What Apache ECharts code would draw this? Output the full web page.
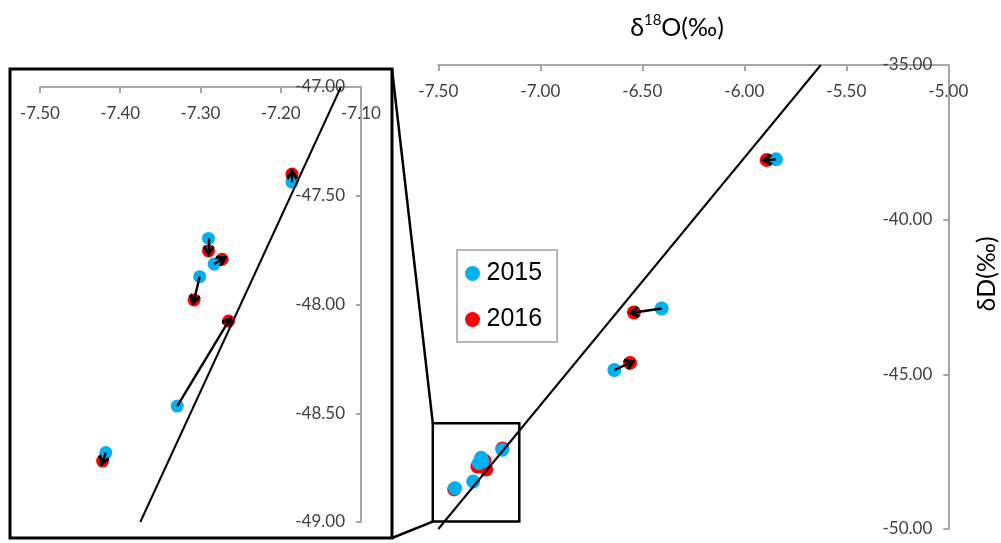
<!DOCTYPE html>
<html>
<head>
<meta charset="utf-8">
<script src="https://cdn.jsdelivr.net/npm/echarts@6/dist/echarts.min.js"></script>
<style>
  html, body { margin: 0; padding: 0; background: #fff; }
  #chart { width: 1001px; height: 543px; }
</style>
</head>
<body>
<div id="chart"></div>
<script>
// δ18O / δD of each sample, 2015 vs 2016 (same order in every array)
const o18_2015 = [-5.845, -6.405, -6.637, -7.186, -7.290, -7.283, -7.301, -7.329, -7.418];
const dD_2015  = [-38.05, -42.87, -44.86, -47.438, -47.696, -47.814, -47.872, -48.467, -48.681];
const o18_2016 = [-5.890, -6.541, -6.560, -7.186, -7.290, -7.273, -7.308, -7.265, -7.422];
const dD_2016  = [-38.07, -43.00, -44.63, -47.400, -47.754, -47.792, -47.979, -48.076, -48.720];

// samples with an arrow in the main plot / samples shown in the zoom panel
const mainArrowIdx = [0, 1, 2];
const zoomIdx = [3, 4, 5, 6, 7, 8];

// meteoric water line end points
const lineMain = [[-7.5, -50], [-5.625, -35]];
const lineZoom = [[-7.375, -49], [-7.125, -47]];

// region of the main plot that the zoom panel enlarges
const zoomBoxX = [-7.527, -7.103];
const zoomBoxY = [-49.76, -46.58];

const BLUE = '#00B0F0';
const RED = '#FF0000';
const AXIS_GRAY = '#a6a6a6';
const LABEL_GRAY = '#404040';
// open arrow head, tip at top
const chevron = 'path://M5,0 L10,7.2 L8.1,9.2 L5,4.6 L1.9,9.2 L0,7.2 Z';

const pts = (xs, ys, idx) => idx.map(i => [xs[i], ys[i]]);
const arrows = idx => idx.map(i => ({ coords: [[o18_2015[i], dD_2015[i]], [o18_2016[i], dD_2016[i]]] }));
const allIdx = o18_2015.map((_, i) => i);

const xAx = (gridIndex, min, max, interval) => ({
  type: 'value', gridIndex, position: 'top', min, max, interval,
  axisLine: { show: true, onZero: false, lineStyle: { color: AXIS_GRAY, width: 2 } },
  axisTick: { show: true, inside: true, length: 6, lineStyle: { color: AXIS_GRAY, width: 2 } },
  axisLabel: { inside: true, margin: 18, formatter: v => v.toFixed(2), color: LABEL_GRAY, fontSize: 17, fontFamily: 'Lato' },
  splitLine: { show: false }
});
const yAx = (gridIndex, min, max, interval) => ({
  type: 'value', gridIndex, position: 'right', min, max, interval,
  axisLine: { show: true, onZero: false, lineStyle: { color: AXIS_GRAY, width: 2 } },
  axisTick: { show: true, inside: true, length: 5, lineStyle: { color: AXIS_GRAY, width: 2 } },
  axisLabel: { inside: true, margin: 16, formatter: v => v.toFixed(2), color: LABEL_GRAY, fontSize: 17, fontFamily: 'Lato' },
  splitLine: { show: false }
});

const scatter = (name, xs, ys, idx, color, axis, size, z) => ({
  name, type: 'scatter', xAxisIndex: axis, yAxisIndex: axis,
  data: pts(xs, ys, idx), symbolSize: size, z,
  itemStyle: { color, opacity: 1 }, silent: true
});
const wline = (data, axis) => ({
  type: 'line', xAxisIndex: axis, yAxisIndex: axis, data, showSymbol: false, z: 3,
  lineStyle: { color: '#000', width: 2 }, silent: true
});
const arrowSeries = (idx, axis) => ({
  type: 'lines', coordinateSystem: 'cartesian2d', xAxisIndex: axis, yAxisIndex: axis,
  data: arrows(idx), symbol: ['none', chevron], symbolSize: [12, 12], z: 5,
  lineStyle: { color: '#000', width: 2.4, opacity: 1 }, silent: true
});

const chart = echarts.init(document.getElementById('chart'), null, { renderer: 'canvas' });
chart.setOption({
  animation: false,
  backgroundColor: '#fff',
  grid: [
    { left: 438.3, right: 52.7, top: 65, bottom: 14, outerBoundsMode: 'none' },
    { left: 40, right: 640, top: 87, bottom: 21, outerBoundsMode: 'none' }
  ],
  xAxis: [xAx(0, -7.5, -5, 0.5), xAx(1, -7.5, -7.1, 0.1)],
  yAxis: [yAx(0, -50, -35, 5), yAx(1, -49, -47, 0.5)],
  legend: {
    data: ['2015', '2016'], orient: 'vertical', left: 457, top: 250,
    padding: [11, 15, 10, 8], itemGap: 21, itemWidth: 18, itemHeight: 15, icon: 'circle',
    borderColor: '#a0a0a0', borderWidth: 1.5, selectedMode: false,
    textStyle: { fontSize: 25, fontFamily: 'Liberation Sans', color: '#000', lineHeight: 24 }
  },
  series: [
    wline(lineMain, 0),
    wline(lineZoom, 1),
    scatter('2016', o18_2016, dD_2016, allIdx, RED, 0, 14, 2),
    scatter('2015', o18_2015, dD_2015, allIdx, BLUE, 0, 14, 2),
    scatter('2016', o18_2016, dD_2016, zoomIdx, RED, 1, 13, 2),
    scatter('2015', o18_2015, dD_2015, zoomIdx, BLUE, 1, 13, 2),
    arrowSeries(mainArrowIdx, 0),
    arrowSeries(zoomIdx, 1)
  ]
});

// zoom box, panel frame and connector lines
const tl = chart.convertToPixel({ gridIndex: 0 }, [zoomBoxX[0], zoomBoxY[1]]);
const br = chart.convertToPixel({ gridIndex: 0 }, [zoomBoxX[1], zoomBoxY[0]]);
const frame = { x: 10, y: 69, w: 382, h: 469 };

chart.setOption({
  graphic: [
    { type: 'rect', shape: { x: frame.x, y: frame.y, width: frame.w, height: frame.h },
      style: { fill: 'none', stroke: '#000', lineWidth: 3 }, z: 10 },
    { type: 'rect', shape: { x: tl[0], y: tl[1], width: br[0] - tl[0], height: br[1] - tl[1] },
      style: { fill: 'none', stroke: '#000', lineWidth: 2.5 }, z: 10 },
    { type: 'line', shape: { x1: frame.x + frame.w, y1: frame.y, x2: tl[0], y2: tl[1] },
      style: { stroke: '#000', lineWidth: 2.5 }, z: 10 },
    { type: 'line', shape: { x1: frame.x + frame.w, y1: frame.y + frame.h, x2: tl[0], y2: br[1] },
      style: { stroke: '#000', lineWidth: 2.5 }, z: 10 },
    { type: 'text', x: 677, y: 28, z: 10,
      style: { text: '{a|δ}{s|18}{a|O(‰)}', align: 'center', verticalAlign: 'middle',
        rich: {
          a: { fontSize: 25, fontFamily: 'Lato', fill: '#000', lineHeight: 30 },
          s: { fontSize: 15, fontFamily: 'Lato', fill: '#000', lineHeight: 30, verticalAlign: 'top' }
        } } },
    { type: 'text', x: 987, y: 274, rotation: Math.PI / 2, z: 10,
      style: { text: 'δD(‰)', align: 'center', verticalAlign: 'middle', fontSize: 25, fontFamily: 'Lato', fill: '#000' } }
  ]
});
</script>
</body>
</html>
